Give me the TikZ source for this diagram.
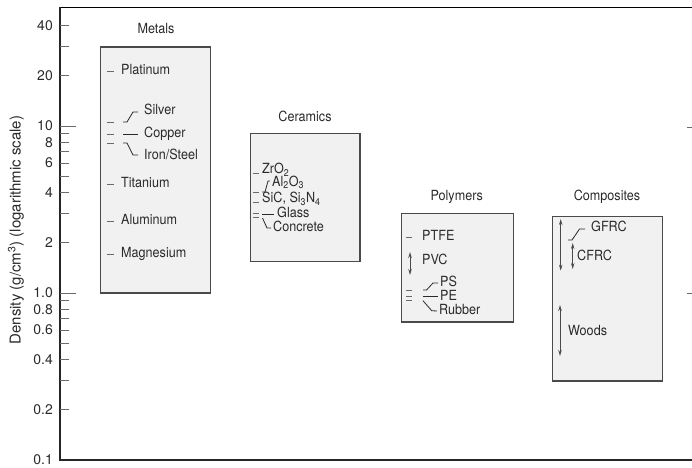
\documentclass[tikz,border=0pt]{standalone}
\usepackage{fontspec}
\setmainfont{TeX Gyre Heros}
\newfontfamily\narrowfont[FakeStretch=0.9]{TeX Gyre Heros}
\usetikzlibrary{arrows.meta}
\usetikzlibrary{calc}
\definecolor{boxfill}{HTML}{F1F1F1}
\definecolor{boxline}{HTML}{4A4A4A}
\definecolor{inkgray}{HTML}{2A2A2A}
\definecolor{markgray}{HTML}{6A6A6A}

\begin{document}
\begin{tikzpicture}[x=1pt,y=-1pt,
  font=\narrowfont\fontsize{14}{16}\selectfont, text=inkgray,
  matbox/.style={draw=boxline, fill=boxfill, line width=1.1pt},
  item/.style={anchor=west, inner sep=1pt, text height=1.6ex, text depth=0.3ex},
  datum/.style={draw=markgray, line width=1pt},
  lead/.style={draw=inkgray, line width=0.8pt},
  rangearrow/.style={{Stealth[length=6pt,width=3.5pt]}-{Stealth[length=6pt,width=3.5pt]}, draw=boxline, line width=1pt},
  tick/.style={draw=markgray, line width=0.9pt}]
\useasboundingbox (0,0) rectangle (692,467);
% axes
\draw[line width=1.6pt, black] (60,7.3) -- (692,7.3);
\draw[line width=1.1pt, black!85] (60,7.3) -- (60,460) -- (692,460);
\foreach \d in {40,30,20,9,8,7,6,5,4,3,2,0.9,0.8,0.7,0.6,0.5,0.4,0.3,0.2}
  \draw[tick] (60,{460-167*(log10(\d)+1)}) -- ++(9,0);
\foreach \d in {10,1}
  \draw[tick] (60,{460-167*(log10(\d)+1)}) -- ++(16,0);
\foreach \d/\t [count=\i] in {40/40,20/20,10/10,8/8,6/6,4/4,2/2,1/1.0,0.8/0.8,0.6/0.6,0.4/0.4,0.2/0.2,0.1/0.1}
  \node[anchor=east, inner sep=1pt, font=\fontsize{14}{16}\selectfont] (lab\i) at (54,{460-167*(log10(\d)+1)}) {\t};
\node[rotate=90, font=\fontsize{15}{17}\selectfont] (ylab) at (16,230) {Density (g/cm\textsuperscript{3}) (logarithmic scale)};
\draw[tick] (687,127) -- (692,127);
\draw[tick] (687,293) -- (692,293);

% Metals
\draw[matbox] (100.7,47) rectangle (210.7,293);
\node (metals) at (156,28) {Metals};
\foreach \y in {71,122,134,143,184,221,254}
  \draw[datum] (107,\y) -- ++(7,0);
\node[item] (pt) at (120,71) {Platinum};
\node[item] (ag) at (143,111) {Silver};
\node[item] (cu) at (143,134) {Copper};
\node[item] (fe) at (143,156) {Iron/Steel};
\node[item] (ti) at (120,184) {Titanium};
\node[item] (al) at (120,221) {Aluminum};
\node[item] (mg) at (120,254) {Magnesium};
\coordinate (agm) at (123,122);
\coordinate (cum) at (123,134);
\coordinate (fem) at (123,143);
\draw[lead] (agm) -- ++(4,0) -- ($(ag.west)+(-10,1)$) -- ($(ag.west)+(-5,1)$);
\draw[lead] (cum) -- ($(cu.west)+(-5,0)$);
\draw[lead] (fem) -- ++(4,0) -- ($(fe.west)+(-10,-1)$) -- ($(fe.west)+(-5,-1)$);

% Ceramics
\draw[matbox] (250.7,133.3) rectangle (360,261.7);
\node (ceramics) at (305,116) {Ceramics};
\foreach \y in {173,192,202,213,217}
  \draw[datum] (252.5,\y) -- ++(6,0);
\node[item] (zro) at (261,170.5) {ZrO\textsubscript{2}};
\node[item] (alo) at (271,183) {Al\textsubscript{2}O\textsubscript{3}};
\node[item] (sic) at (261,199.5) {SiC, Si\textsubscript{3}N\textsubscript{4}};
\node[item] (gla) at (276,214.5) {Glass};
\node[item] (con) at (272,228) {Concrete};
\coordinate (alom) at (262,192);
\coordinate (glam) at (262,214);
\coordinate (conm) at (262.5,218);
\draw[lead] (alom) -- ++(3,0) -- ($(alo.west)+(-3,-2)$) -- ($(alo.west)+(-1,-2)$);
\draw[lead] (glam) -- ($(gla.west)+(-2,-0.5)$);
\draw[lead] (conm) -- (267,228) -- ($(con.west)+(-1,0)$);

% Polymers
\draw[matbox] (401.7,213.3) rectangle (513.3,322);
\node (polymers) at (456.7,197) {Polymers};
\foreach \y in {237,290,296.7,300.7}
  \draw[datum] (406,\y) -- ++(6,0);
\draw[rangearrow] (410,252) -- (410,275);
\node[item] (ptfe) at (421,237) {PTFE};
\node[item] (pvc) at (421,261) {PVC};
\node[item] (ps) at (439,283) {PS};
\node[item] (pe) at (439,297) {PE};
\node[item] (rub) at (438,311) {Rubber};
\coordinate (psm) at (423,290);
\coordinate (pem) at (423,296.7);
\coordinate (rubm) at (423,300.7);
\draw[lead] (psm) -- ++(3.5,0) -- ($(ps.west)+(-6,0)$) -- ($(ps.west)+(-1,0)$);
\draw[lead] (pem) -- ($(pe.west)+(-1,-0.3)$);
\draw[lead] (rubm) -- (431.7,310.7) -- ($(rub.west)+(-1,0)$);

% Composites
\draw[matbox] (552.3,216.7) rectangle (662.3,381);
\node (composites) at (607,197) {Composites};
\draw[rangearrow] (560.7,219) -- (560.7,270.7);
\draw[rangearrow] (572.7,243) -- (572.7,269);
\draw[rangearrow] (560,305) -- (560,356);
\node[item] (gfrc) at (590,228) {GFRC};
\node[item] (cfrc) at (576,257) {CFRC};
\node[item] (wood) at (567,332) {Woods};
\coordinate (gfrcm) at (568,240);
\draw[lead] (gfrcm) -- ++(4,0) -- ($(gfrc.west)+(-10.5,1)$) -- ($(gfrc.west)+(-5,1)$);
\end{tikzpicture}
\end{document}
